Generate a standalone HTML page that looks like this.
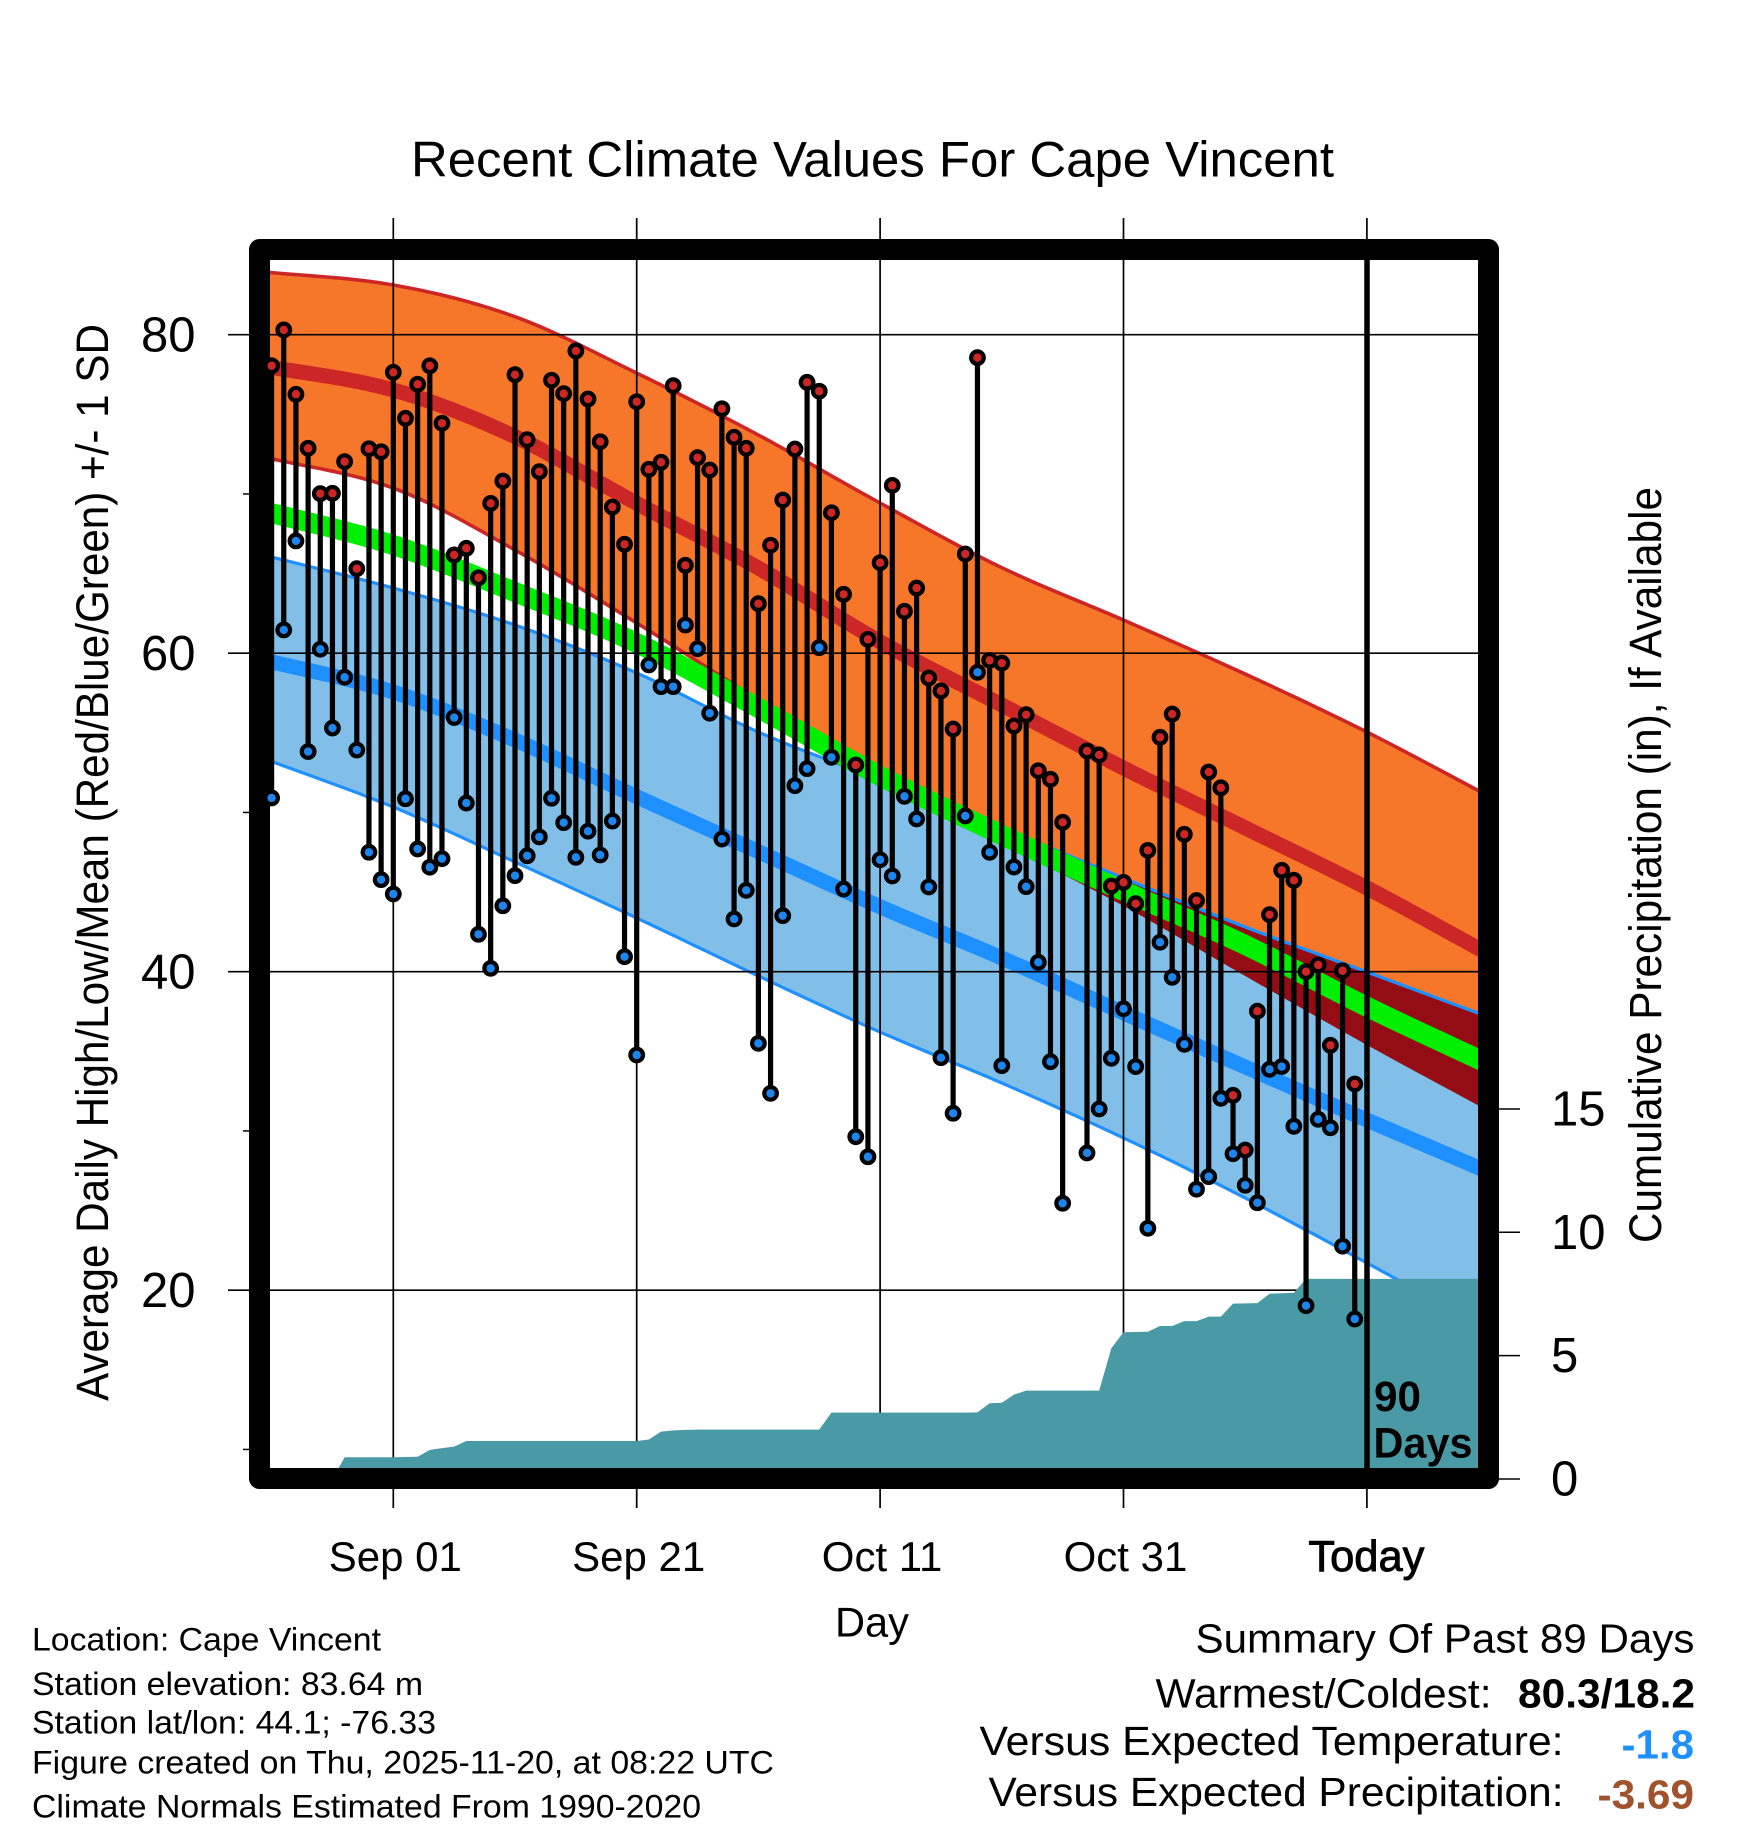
<!DOCTYPE html>
<html lang="en">
<head>
<meta charset="utf-8">
<title>Recent Climate Values For Cape Vincent</title>
<style>
html,body{margin:0;padding:0;background:#fff}
svg{display:block}
text{font-family:"Liberation Sans",sans-serif;fill:#000}
</style>
</head>
<body>
<svg id="chart" xmlns="http://www.w3.org/2000/svg" width="1748" height="1828" viewBox="0 0 1748 1828">
<defs>
<clipPath id="plot-clip"><rect x="270" y="260" width="1208" height="1208"/></clipPath>
<clipPath id="blue-clip"><polygon id="blue-clip-shape" points="0,0"/></clipPath>
</defs>
<rect width="1748" height="1828" fill="#fff"/>
<text x="411" y="176.5" font-size="50.5" textLength="923" lengthAdjust="spacingAndGlyphs">Recent Climate Values For Cape Vincent</text>
<g id="axes-under"></g>
<g id="bands" clip-path="url(#plot-clip)"></g>
<g id="grid"></g>
<g id="precip" clip-path="url(#plot-clip)"></g>
<rect x="259.5" y="249.5" width="1229" height="1229" fill="none" stroke="#000" stroke-width="21" stroke-linejoin="round"/>
<g id="ticks"></g>
<g id="stems"></g>
<g id="markers"></g>
<line x1="1367" y1="260" x2="1367" y2="1468" stroke="#000" stroke-width="5.5"/>
<text x="1374" y="1411" font-size="43" font-weight="bold" textLength="47" lengthAdjust="spacingAndGlyphs">90</text>
<text x="1373.5" y="1457.5" font-size="43" font-weight="bold" textLength="99" lengthAdjust="spacingAndGlyphs">Days</text>
<g id="tick-labels"></g>
<text x="108" y="1401" font-size="45" transform="rotate(-90 108 1401)" textLength="1077" lengthAdjust="spacingAndGlyphs">Average Daily High/Low/Mean (Red/Blue/Green) +/- 1 SD</text>
<text x="1661" y="1243" font-size="45" transform="rotate(-90 1661 1243)" textLength="756" lengthAdjust="spacingAndGlyphs">Cumulative Precipitation (in), If Available</text>
<text x="835" y="1636.5" font-size="41.5" textLength="74" lengthAdjust="spacingAndGlyphs">Day</text>
<text x="32" y="1650.7" font-size="32" textLength="349" lengthAdjust="spacingAndGlyphs">Location: Cape Vincent</text>
<text x="32" y="1695" font-size="32" textLength="391" lengthAdjust="spacingAndGlyphs">Station elevation: 83.64 m</text>
<text x="32" y="1733.3" font-size="32" textLength="404" lengthAdjust="spacingAndGlyphs">Station lat/lon: 44.1; -76.33</text>
<text x="32" y="1773.5" font-size="32" textLength="742" lengthAdjust="spacingAndGlyphs">Figure created on Thu, 2025-11-20, at 08:22 UTC</text>
<text x="32" y="1817.7" font-size="32" textLength="669" lengthAdjust="spacingAndGlyphs">Climate Normals Estimated From 1990-2020</text>
<text x="1195.5" y="1652.7" font-size="41" textLength="499" lengthAdjust="spacingAndGlyphs">Summary Of Past 89 Days</text>
<text x="1155.5" y="1707.3" font-size="41" textLength="336" lengthAdjust="spacingAndGlyphs">Warmest/Coldest:</text>
<text x="1518" y="1707.3" font-size="41" font-weight="bold" textLength="177" lengthAdjust="spacingAndGlyphs">80.3/18.2</text>
<text x="979.5" y="1755" font-size="41" textLength="584" lengthAdjust="spacingAndGlyphs">Versus Expected Temperature:</text>
<text x="1621.5" y="1758.3" font-size="41" font-weight="bold" style="fill:#1E90FF" textLength="72.5" lengthAdjust="spacingAndGlyphs">-1.8</text>
<text x="988.5" y="1806" font-size="41" textLength="575" lengthAdjust="spacingAndGlyphs">Versus Expected Precipitation:</text>
<text x="1597.5" y="1808.3" font-size="41" font-weight="bold" style="fill:#A0522D" textLength="96.5" lengthAdjust="spacingAndGlyphs">-3.69</text>
</svg>
<script>
// ---- Data (temperatures in degrees F, precipitation in inches) ----
const firstDay = -10;
const dailyHigh = [78.05,80.3,76.26,72.87,70.02,70.04,72.03,65.31,72.84,72.65,77.64,74.75,76.89,78.05,74.44,66.17,66.59,64.74,69.41,70.81,77.49,73.41,71.40,77.14,76.30,78.98,75.96,73.28,69.18,66.84,75.79,71.55,71.99,76.80,65.52,72.28,71.50,75.35,73.56,72.87,63.11,66.78,69.62,72.82,77.01,76.45,68.82,63.70,52.98,60.87,65.68,70.54,62.63,64.09,58.44,57.63,55.24,66.23,78.56,59.55,59.38,55.43,56.14,52.62,52.08,49.38,null,53.86,53.61,45.38,45.61,44.27,47.62,54.72,56.18,48.63,44.47,52.54,51.55,32.24,28.80,37.52,43.58,46.37,45.74,40.00,40.42,35.38,40.06,32.95];
const dailyLow = [50.91,61.46,67.05,53.82,60.25,55.30,58.49,53.92,47.50,45.78,44.88,50.86,47.71,46.56,47.10,55.96,50.59,42.35,40.21,44.14,46.03,47.28,48.46,50.89,49.36,47.18,48.82,47.33,49.46,40.94,34.77,59.26,57.90,57.90,61.77,60.28,56.23,48.33,43.31,45.11,35.50,32.36,43.52,51.68,52.75,60.35,53.46,45.19,29.64,28.38,47.03,46.01,51.01,49.59,45.32,34.60,31.11,49.78,58.80,47.50,34.10,46.57,45.34,40.59,34.35,25.46,null,28.62,31.38,34.56,37.67,34.04,23.89,41.85,39.65,35.44,26.34,27.13,32.05,28.57,26.59,25.49,33.87,34.04,30.29,19.03,30.73,30.20,22.76,18.19];

const bandDays = [-11,0,10,20,30,40,50,60,70,80,90];
const highPlusSD  = [83.97,83.12,81.13,77.59,73.70,69.43,65.37,62.08,58.69,55.05,51.03];
const highMean    = [78.08,76.53,73.60,69.41,65.35,60.72,56.75,52.79,49.03,45.26,41.11];
const highMinusSD = [72.38,70.37,66.48,61.90,57.06,52.35,48.08,44.13,39.73,35.40,31.25];
const overallMean = [68.99,66.79,63.84,60.64,56.56,52.29,48.58,45.07,41.68,37.80,34.20];
const lowPlusSD   = [66.23,64.09,61.77,58.76,55.05,52.04,49.02,45.88,42.81,39.98,37.16];
const lowMean     = [59.64,57.56,54.55,50.99,47.54,44.08,40.86,37.41,34.02,30.69,27.42];
const lowMinusSD  = [53.48,50.34,46.89,43.37,39.73,36.21,33.01,29.56,25.79,21.71,17.50];

const precipFirstDay = -10;
const precipCumulative = [0,0,0,0,0,0,.88,.88,.88,.88,.88,.89,.90,1.18,1.25,1.31,1.54,1.54,1.54,1.54,1.54,1.54,1.54,1.54,1.54,1.54,1.54,1.54,1.54,1.54,1.54,1.60,1.92,1.97,1.99,2.0,2.0,2.0,2.0,2.0,2.0,2.0,2.0,2.0,2.0,2.0,2.69,2.69,2.69,2.69,2.69,2.69,2.69,2.69,2.69,2.69,2.69,2.69,2.70,3.07,3.09,3.42,3.58,3.58,3.58,3.58,3.58,3.58,3.58,5.30,5.95,5.96,5.97,6.20,6.20,6.40,6.40,6.58,6.58,7.11,7.12,7.13,7.51,7.53,7.55,8.11,8.11,8.11,8.11,8.11,8.11,8.11,8.11,8.11,8.11,8.11,8.11,8.11,8.11,8.11,8.11];

const xTickDays = [0,20,40,60,80];
const xTickLabels = ["Sep 01","Sep 21","Oct 11","Oct 31","Today"];
const yTickValues = [80,60,40,20];
const yMinorTickValues = [70,50,30,10];
const precipTickValues = [0,5,10,15];

// ---- Axis functions ----
function xScale(day){return 393.3+12.17*day;}
function yScale(t){return 334.7+(80-t)*15.925;}
function y2Scale(v){return 1479-24.67*v;}

const NS='http://www.w3.org/2000/svg';
function mk(parent,tag,attrs,text){
  const e=document.createElementNS(NS,tag);
  for(const k in attrs)e.setAttribute(k,attrs[k]);
  if(text!==undefined)e.textContent=text;
  document.getElementById(parent).appendChild(e);
  return e;
}
function curve(vals){
  const n=bandDays.length,out=[];
  const slope=i=>{
    const a=Math.max(0,i-1),b=Math.min(n-1,i+1);
    return (vals[b]-vals[a])/(bandDays[b]-bandDays[a]);
  };
  for(let i=0;i<n-1;i++){
    const d0=bandDays[i],d1=bandDays[i+1],h=d1-d0,m0=slope(i),m1=slope(i+1);
    for(let d=d0;d<d1;d+=1){
      const s=(d-d0)/h,s2=s*s,s3=s2*s;
      const v=(2*s3-3*s2+1)*vals[i]+(s3-2*s2+s)*h*m0+(-2*s3+3*s2)*vals[i+1]+(s3-s2)*h*m1;
      out.push([xScale(d),yScale(v)]);
    }
  }
  out.push([xScale(bandDays[n-1]),yScale(vals[n-1])]);
  return out;
}
const ptsStr=a=>a.map(p=>p[0].toFixed(2)+','+p[1].toFixed(2)).join(' ');
const bandPoly=(top,bot)=>ptsStr(curve(top).concat(curve(bot).reverse()));

// ---- Bands ----
const ORANGE='#F7772A',LIGHTBLUE='#82BFE8',RED='#CD2626',BLUE='#1E90FF',GREEN='#00EE00',DARK='#940D14',TEAL='#4A9AA6';
const orangePts=bandPoly(highPlusSD,highMinusSD);
const bluePts=bandPoly(lowPlusSD,lowMinusSD);
document.getElementById('blue-clip-shape').setAttribute('points',bluePts);

const orangeBand=mk('bands','polygon',{points:orangePts,fill:ORANGE});


const highTop=mk('bands','polyline',{points:ptsStr(curve(highPlusSD)),fill:'none',stroke:RED,'stroke-width':3.6});


const highBot=mk('bands','polyline',{points:ptsStr(curve(highMinusSD)),fill:'none',stroke:RED,'stroke-width':3.6});


const blueBand=mk('bands','polygon',{points:bluePts,fill:LIGHTBLUE});


const overlap=mk('bands','polygon',{points:orangePts,fill:DARK,'clip-path':'url(#blue-clip)'});


const lowTop=mk('bands','polyline',{points:ptsStr(curve(lowPlusSD)),fill:'none',stroke:BLUE,'stroke-width':3.2});


const lowBot=mk('bands','polyline',{points:ptsStr(curve(lowMinusSD)),fill:'none',stroke:BLUE,'stroke-width':3.2});


const highM=mk('bands','polyline',{points:ptsStr(curve(highMean)),fill:'none',stroke:RED,'stroke-width':15});


const lowM=mk('bands','polyline',{points:ptsStr(curve(lowMean)),fill:'none',stroke:BLUE,'stroke-width':15});


const greenM=mk('bands','polyline',{points:ptsStr(curve(overallMean)),fill:'none',stroke:GREEN,'stroke-width':20});



// ---- Grid and ticks ----
yTickValues.forEach(v=>{
  const g=mk('grid','line',{x1:228,x2:1478,y1:yScale(v),y2:yScale(v),stroke:'#000','stroke-width':1.7});
  
  
  const t=mk('tick-labels','text',{x:195.5,y:yScale(v)+17,'font-size':49,'text-anchor':'end'},String(v));
  
  
});
yMinorTickValues.forEach(v=>{
  const g=mk('ticks','line',{x1:243,x2:250,y1:yScale(v),y2:yScale(v),stroke:'#000','stroke-width':1.5});
  
  
});
xTickDays.forEach((d,i)=>{
  const g=mk('grid','line',{x1:xScale(d),x2:xScale(d),y1:218,y2:1508,stroke:'#000','stroke-width':1.7});
  
  
  const isToday=xTickLabels[i]==='Today';
  const a={x:xScale(d)+(isToday?-0.5:2),y:1571,'font-size':isToday?43.5:42,'text-anchor':'middle'};
  if(isToday){a.stroke='#000';a['stroke-width']=0.9;}
  const t=mk('tick-labels','text',a,xTickLabels[i]);
  
  
});
precipTickValues.forEach(v=>{
  const g=mk('ticks','line',{x1:1498,x2:1520,y1:y2Scale(v),y2:y2Scale(v),stroke:'#000','stroke-width':1.5});
  
  
  const t=mk('tick-labels','text',{x:1551,y:y2Scale(v)+16.5,'font-size':49},String(v));
  
  
});

// ---- Precipitation ----
const pPts=precipCumulative.map((v,i)=>[xScale(precipFirstDay+i),y2Scale(v)]);
pPts.push([xScale(precipFirstDay+precipCumulative.length-1),y2Scale(0)]);
pPts.push([xScale(precipFirstDay),y2Scale(0)]);
const pArea=mk('precip','polygon',{points:ptsStr(pPts),fill:TEAL});



// ---- Daily stems and markers ----
dailyHigh.forEach((hi,i)=>{
  const lo=dailyLow[i];
  if(hi===null||lo===null)return;
  const x=xScale(firstDay+i);
  const s=mk('stems','line',{x1:x,x2:x,y1:yScale(hi),y2:yScale(lo),stroke:'#000','stroke-width':5.2});
  
  
  const l=mk('markers','circle',{cx:x,cy:yScale(lo),r:6.3,fill:'#1C86EE',stroke:'#000','stroke-width':4.2});
  
  
  const h=mk('markers','circle',{cx:x,cy:yScale(hi),r:6.3,fill:RED,stroke:'#000','stroke-width':4.2});
  
  
});
</script>
</body>
</html>
